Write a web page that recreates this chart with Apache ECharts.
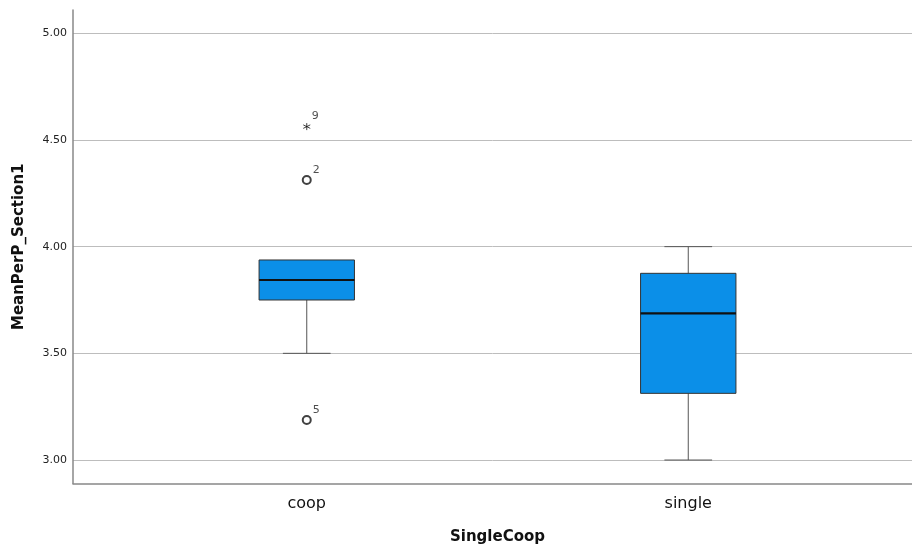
<!DOCTYPE html>
<html>
<head>
<meta charset="utf-8">
<script src="https://cdn.jsdelivr.net/npm/echarts@6/dist/echarts.min.js"></script>
<style>
  html, body { margin: 0; padding: 0; background: #fff; }
  #chart { width: 912px; height: 547px; }
</style>
</head>
<body>
<div id="chart"></div>
<script>
// Groups on the horizontal axis
const categories = ['coop', 'single'];
// Five-number summaries per group: lower whisker, Q1, median, Q3, upper whisker
const lowerWhisker = [3.5, 3.0];
const quartile1 = [3.75, 3.3125];
const medians = [3.84375, 3.6875];
const quartile3 = [3.9375, 3.875];
const upperWhisker = [3.9375, 4.0];
// Outlying cases: group index, value, case number, kind
const outlierGroup = [0, 0, 0];
const outlierValue = [4.5625, 4.3125, 3.1875];
const outlierCase = ['9', '2', '5'];
const outlierKind = ['extreme', 'outlier', 'outlier'];
// Value axis ticks
const yTicks = [3.0, 3.5, 4.0, 4.5, 5.0];
const yMin = 2.89;
const yMax = 5.109;

const FONT = 'DejaVu Sans';
const boxData = categories.map((c, i) =>
  [i, lowerWhisker[i], quartile1[i], medians[i], quartile3[i], upperWhisker[i]]);

const asterisk = 'path://M5 0 L5 10 M0.67 2.5 L9.33 7.5 M0.67 7.5 L9.33 2.5';
const outlierData = outlierValue.map((v, i) => ({
  value: [outlierGroup[i], v],
  name: outlierCase[i],
  symbol: outlierKind[i] === 'extreme' ? asterisk : 'emptyCircle',
  symbolSize: outlierKind[i] === 'extreme' ? 7 : 8
}));

function renderBox(params, api) {
  const idx = api.value(0);
  const x = api.coord([idx, yMin])[0];
  const yOf = v => api.coord([idx, v])[1];
  const band = api.size([1, 0])[0];
  const half = band * 0.125;
  const capHalf = half / 2;
  const yLow = yOf(api.value(1));
  const yQ1 = yOf(api.value(2));
  const yMed = yOf(api.value(3));
  const yQ3 = yOf(api.value(4));
  const yHigh = yOf(api.value(5));
  const whisker = { stroke: '#555', lineWidth: 1 };
  const children = [];
  if (Math.abs(yLow - yQ1) > 0.5) {
    children.push({ type: 'line', shape: { x1: x, y1: yQ1, x2: x, y2: yLow }, style: whisker });
    children.push({ type: 'line', shape: { x1: x - capHalf, y1: yLow, x2: x + capHalf, y2: yLow }, style: whisker });
  }
  if (Math.abs(yHigh - yQ3) > 0.5) {
    children.push({ type: 'line', shape: { x1: x, y1: yQ3, x2: x, y2: yHigh }, style: whisker });
    children.push({ type: 'line', shape: { x1: x - capHalf, y1: yHigh, x2: x + capHalf, y2: yHigh }, style: whisker });
  }
  children.push({
    type: 'rect',
    shape: { x: x - half, y: yQ3, width: half * 2, height: yQ1 - yQ3 },
    style: { fill: '#0b8fe8', stroke: '#333', lineWidth: 1 }
  });
  children.push({
    type: 'line',
    shape: { x1: x - half, y1: yMed, x2: x + half, y2: yMed },
    style: { stroke: '#111', lineWidth: 2.2 }
  });
  return { type: 'group', children };
}

const chart = echarts.init(document.getElementById('chart'), null, { renderer: 'canvas' });
chart.setOption({
  animation: false,
  backgroundColor: '#fff',
  grid: [
    // frame with the axis lines and gridlines
    { left: 73, right: 0, top: 10, bottom: 63.5, containLabel: false, outerBoundsMode: 'none' },
    // data area holding the two groups
    { left: 116, right: 33, top: 10, bottom: 63.5, containLabel: false, outerBoundsMode: 'none' }
  ],
  xAxis: [
    {
      gridIndex: 0, type: 'value', min: 0, max: 1,
      axisLine: { show: true, lineStyle: { color: '#888', width: 1.5 } },
      axisTick: { show: false }, axisLabel: { show: false }, splitLine: { show: false }
    },
    {
      gridIndex: 1, type: 'category', data: categories, boundaryGap: true,
      axisLine: { show: false }, axisTick: { show: false }, splitLine: { show: false },
      axisLabel: { color: '#111', fontFamily: FONT, fontSize: 16, margin: 12 },
      name: 'SingleCoop', nameLocation: 'middle', nameGap: 46,
      nameTextStyle: { color: '#111', fontFamily: FONT, fontSize: 15, fontWeight: 'bold' }
    }
  ],
  yAxis: [
    {
      gridIndex: 0, type: 'value', min: yMin, max: yMax,
      axisLine: { show: true, lineStyle: { color: '#888', width: 1.5 } },
      axisTick: { show: false, customValues: yTicks },
      axisLabel: {
        customValues: yTicks, color: '#222', fontFamily: FONT, fontSize: 11, margin: 6,
        formatter: v => v.toFixed(2)
      },
      splitLine: { show: true, lineStyle: { color: '#bdbdbd', width: 1 } },
      name: 'MeanPerP_Section1', nameLocation: 'middle', nameGap: 46,
      nameTextStyle: { color: '#111', fontFamily: FONT, fontSize: 15, fontWeight: 'bold' }
    },
    {
      gridIndex: 1, type: 'value', min: yMin, max: yMax, show: false,
      splitLine: { show: false }
    }
  ],
  series: [
    {
      type: 'custom', xAxisIndex: 1, yAxisIndex: 1,
      data: boxData, renderItem: renderBox,
      encode: { x: 0, y: [1, 2, 3, 4, 5] }
    },
    {
      type: 'scatter', xAxisIndex: 1, yAxisIndex: 1,
      data: outlierData,
      itemStyle: { color: '#111', borderColor: '#111', borderWidth: 1 },
      label: {
        show: true, position: 'right', distance: 1, offset: [0, -10],
        formatter: p => p.name, color: '#222', fontFamily: FONT, fontSize: 11
      }
    }
  ]
});
</script>
</body>
</html>
